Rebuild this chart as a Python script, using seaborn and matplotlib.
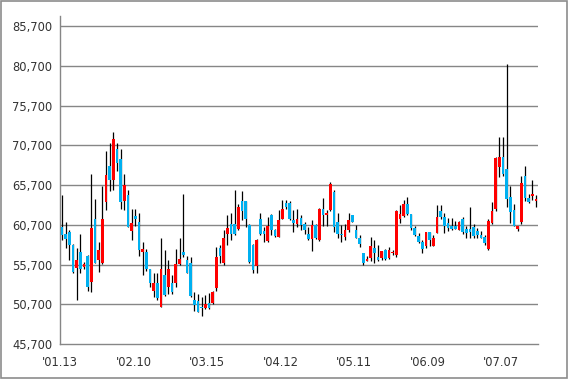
"""
Daily candlestick chart, Jan - Jul
"""

import numpy as np
import pandas as pd
import matplotlib
matplotlib.use('Agg')
import matplotlib.pyplot as plt
from matplotlib.patches import Rectangle
import seaborn as sns

# daily prices (130 sessions)
opens = [60450, 59550, 59850, 58150, 55300, 57250, 55450, 56750, 53550, 61400,
         56250, 55850, 63600, 68100, 66350, 70250, 68950, 63700, 64450, 59900,
         61800, 61100, 57300, 57300, 55100, 52350, 53400, 50400, 54350, 52900,
         53400, 53350, 55750, 57250, 56250, 55850, 51300, 51100, 50400, 50200,
         50800, 50800, 52700, 57750, 55850, 59550, 60850, 60850, 60150, 63700,
         63700, 60650, 58150, 55500, 61500, 59950, 58700, 61950, 60050, 59200,
         61500, 63400, 63400, 61300, 60850, 61600, 60850, 59600, 58900, 60650,
         58800, 62750, 61950, 62550, 64850, 61100, 59600, 59200, 60050, 61950,
         60050, 59050, 57100, 56150, 56550, 57750, 56700, 56500, 57550, 56500,
         57150, 56950, 61450, 61850, 63350, 62100, 60300, 59300, 58600, 58000,
         59800, 58050, 59700, 62400, 61650, 60900, 60600, 60600, 60100, 61450,
         60150, 60150, 60450, 59900, 59450, 59200, 57650, 60900, 62700, 68000,
         69300, 67700, 64200, 62600, 60200, 61050, 66800, 64100, 64300, 63750]
highs = [64450, 61100, 60050, 58350, 57750, 59600, 56050, 56900, 67150, 63950,
         58500, 65550, 69950, 70950, 72400, 70950, 70200, 67050, 65050, 62650,
         62650, 62150, 58550, 57600, 55200, 54600, 54700, 59000, 57500, 56250,
         54350, 57600, 59000, 64550, 56750, 56700, 52300, 52050, 51650, 51850,
         52100, 52400, 57950, 58150, 60050, 61950, 62150, 65050, 63300, 64950,
         63700, 60850, 58300, 58900, 62150, 60450, 61700, 62100, 60200, 62550,
         63800, 63800, 63750, 62550, 62650, 61950, 61100, 60450, 61300, 60800,
         62800, 64100, 62600, 66100, 65050, 62150, 60650, 60850, 62150, 62000,
         60650, 59400, 57200, 56800, 59200, 58800, 58150, 57450, 57600, 57950,
         57550, 62600, 63200, 63850, 64250, 62100, 60500, 59650, 58800, 59850,
         59850, 59450, 63200, 63200, 62150, 61550, 61550, 61150, 61250, 61650,
         60500, 62900, 60800, 60250, 59900, 59400, 61400, 63600, 69200, 71800,
         71800, 81000, 65600, 63300, 60600, 66900, 68050, 64550, 66400, 64450]
lows = [58780, 57750, 56250, 54700, 51250, 54600, 55200, 52400, 52300, 55850,
        54800, 55750, 62550, 65000, 65050, 67450, 62650, 62550, 60400, 58800,
        60550, 56750, 54350, 54900, 52900, 51650, 51300, 50300, 51700, 52050,
        52050, 52900, 55650, 56700, 54600, 51650, 49850, 49700, 49200, 50100,
        50100, 50700, 52400, 55850, 55650, 58150, 58800, 59400, 60050, 61300,
        60450, 55900, 54700, 54700, 59400, 58550, 58550, 59400, 59200, 59200,
        61400, 62700, 61300, 59850, 60450, 60050, 59600, 58800, 57400, 58900,
        58700, 60600, 60500, 62450, 59850, 59000, 58550, 58800, 59750, 61000,
        59000, 57950, 55650, 56100, 56150, 55950, 56100, 56300, 56300, 56400,
        56950, 56700, 60900, 61750, 62000, 60050, 59250, 58400, 57150, 57750,
        58000, 58000, 59650, 61500, 59650, 59900, 60050, 60150, 60050, 59550,
        59100, 59100, 59100, 59100, 59100, 58200, 57500, 60800, 62450, 66700,
        66850, 62900, 60900, 60500, 59950, 60850, 63700, 63500, 63800, 63000]
closes = [59400, 58950, 58150, 54800, 56250, 55200, 55750, 52900, 60350, 55950,
          57500, 61500, 66950, 66350, 71500, 68500, 63600, 65700, 60450, 60950,
          61500, 57500, 57650, 55100, 53350, 53400, 51450, 55200, 51850, 55100,
          52300, 55750, 56450, 56950, 54650, 51700, 50600, 49750, 50200, 50700,
          50250, 52300, 56700, 56750, 59000, 60250, 59550, 59550, 62900, 62450,
          61400, 56050, 55000, 58800, 59600, 59550, 60550, 60050, 59300, 61300,
          62650, 62950, 61400, 60950, 61450, 60650, 60050, 58900, 60650, 59050,
          62700, 61950, 62200, 65850, 60450, 59600, 59400, 60050, 61300, 61100,
          59050, 58350, 55950, 56450, 58050, 57100, 56250, 57350, 56400, 57550,
          57300, 62500, 62050, 63350, 62100, 60300, 59450, 58600, 57650, 59800,
          58750, 59100, 61700, 61650, 60600, 60300, 60200, 60200, 61100, 59750,
          59650, 59750, 59350, 59450, 59100, 58400, 61150, 62500, 69100, 69250,
          67150, 63900, 62300, 60600, 60500, 65950, 64050, 63550, 64650, 64000]

tick_labels = ["'01.13", "'02.10", "'03.15", "'04.12", "'05.11", "'06.09", "'07.07"]
y_ticks = [45700, 50700, 55700, 60700, 65700, 70700, 75700, 80700, 85700]

UP_COLOR = '#FF0000'
DOWN_COLOR = '#00B0F0'
GRID_COLOR = '#868686'

sns.set_style('white')
plt.rcParams['font.family'] = ['DejaVu Sans']

df = pd.DataFrame({'open': opens, 'high': highs, 'low': lows, 'close': closes})
df['pos'] = np.arange(len(df))
df['up'] = df['close'] >= df['open']
df['bottom'] = df[['open', 'close']].min(axis=1)
df['height'] = (df['close'] - df['open']).abs().clip(lower=120)

fig = plt.figure(figsize=(5.68, 3.79), dpi=100)
ax = fig.add_axes([60 / 568, 35 / 379, 478 / 568, 328 / 379])

# grid first so candles sit on top
for val in y_ticks[1:]:
    ax.axhline(val, color=GRID_COLOR, linewidth=1.0, zorder=0)

# wicks
ax.vlines(df['pos'], df['low'], df['high'], color='black', linewidth=0.9, zorder=2)

# bodies
colors = np.where(df['up'], UP_COLOR, DOWN_COLOR)
ax.bar(df['pos'], df['height'], bottom=df['bottom'], width=0.72,
       color=colors, edgecolor='none', zorder=3)

ax.set_xlim(-0.5, len(df) - 0.5)
ax.set_ylim(45700, 87000)
ax.set_yticks(y_ticks)
ax.set_yticklabels([f'{v:,}' for v in y_ticks])
ax.set_xticks([-0.5 + 20 * k for k in range(len(tick_labels))])
ax.set_xticklabels(tick_labels)

for side in ['top', 'right']:
    ax.spines[side].set_visible(False)
for side in ['left', 'bottom']:
    ax.spines[side].set_color(GRID_COLOR)
    ax.spines[side].set_linewidth(1.0)

ax.tick_params(axis='both', which='major', direction='out', length=3.5,
               width=1.0, color=GRID_COLOR, labelsize=8.3, labelcolor='#333333')
ax.tick_params(axis='y', pad=2)
ax.tick_params(axis='x', pad=5)

# thin frame around the whole picture
fig.patches.append(Rectangle((0.001, 0.002), 0.997, 0.995, transform=fig.transFigure,
                             fill=False, edgecolor='#8c8c8c', linewidth=1.2))

fig.savefig('out.png', dpi=100)
plt.close(fig)
